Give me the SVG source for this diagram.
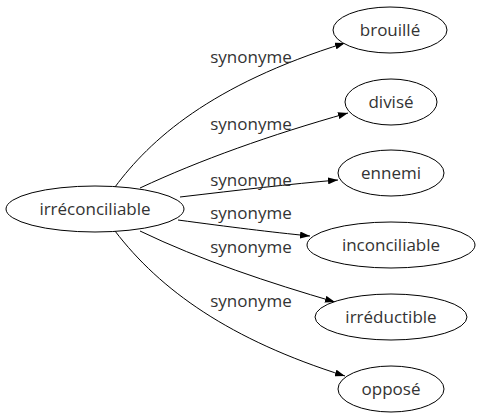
<svg xmlns="http://www.w3.org/2000/svg" width="478" height="419" viewBox="0 0 478 419">
<style>
.n ellipse{fill:#fff;stroke:#000;stroke-width:1}
text{font-family:"Open Sans","DejaVu Sans",sans-serif;font-size:17px;fill:#333;text-anchor:middle}
.e path{fill:none;stroke:#000;stroke-width:1;marker-end:url(#a)}
</style>
<defs>
<marker id="a" viewBox="0 0 10 7" refX="10" refY="3.5" markerWidth="10" markerHeight="7" markerUnits="userSpaceOnUse" orient="auto">
<path d="M0,0 L10,3.5 L0,7 Z" fill="#000"/>
</marker>
</defs>
<g class="e" id="edges">
<path d="M115,187 C150,140 210,85 345,43"/>
<path d="M140,188 C200,160 270,135 348,113"/>
<path d="M180,197 C240,190 290,184 338,180"/>
<path d="M178,220 C230,227 270,232 310,236"/>
<path d="M140,231 C200,260 270,283 335,302"/>
<path d="M115,231 C160,290 230,340 345,376"/>
</g>
<g id="labels">
<text x="251" y="63">synonyme</text>
<text x="251" y="130">synonyme</text>
<text x="251" y="186">synonyme</text>
<text x="251" y="219">synonyme</text>
<text x="251" y="253">synonyme</text>
<text x="251" y="307">synonyme</text>
</g>
<g class="n" id="n0"><ellipse cx="95" cy="209" rx="89" ry="23"/><text x="95" y="215">irréconciliable</text></g>
<g class="n" id="n1"><ellipse cx="390" cy="30" rx="57" ry="23"/><text x="390" y="36">brouillé</text></g>
<g class="n" id="n2"><ellipse cx="391" cy="102" rx="46" ry="23"/><text x="391" y="108">divisé</text></g>
<g class="n" id="n3"><ellipse cx="391" cy="173" rx="53" ry="23"/><text x="391" y="179">ennemi</text></g>
<g class="n" id="n4"><ellipse cx="391" cy="245" rx="84" ry="23"/><text x="391" y="251">inconciliable</text></g>
<g class="n" id="n5"><ellipse cx="391" cy="317" rx="76" ry="23"/><text x="391" y="323">irréductible</text></g>
<g class="n" id="n6"><ellipse cx="391" cy="389" rx="53" ry="23"/><text x="391" y="395">opposé</text></g>
</svg>
